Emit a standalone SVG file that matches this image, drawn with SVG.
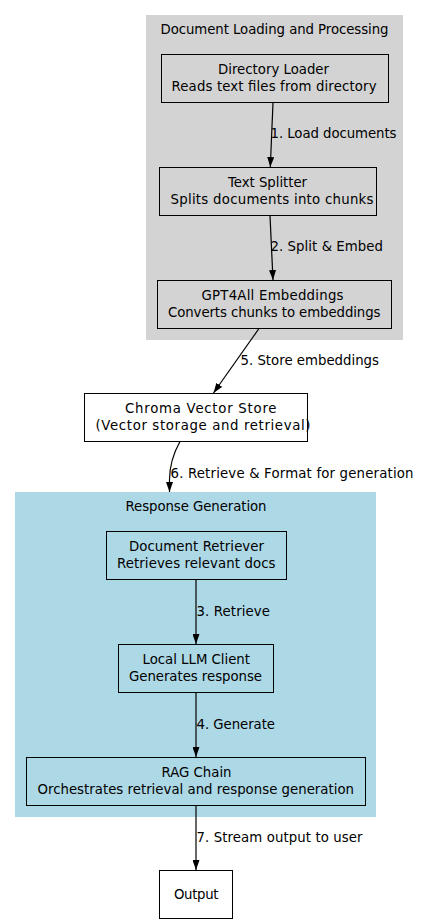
<svg xmlns="http://www.w3.org/2000/svg" width="436" height="924" viewBox="0 0 436 924">
<defs>
<marker id="ah" viewBox="0 0 10 7" refX="10" refY="3.5" markerWidth="10" markerHeight="7" markerUnits="userSpaceOnUse" orient="auto">
<path d="M0,0 L10,3.5 L0,7 Z" fill="#000"/>
</marker>
<style>
text{font-family:"DejaVu Sans",Verdana,sans-serif;font-size:13.3px;fill:#000}
.node{fill:none;stroke:#000;stroke-width:1}
.edge{fill:none;stroke:#000;stroke-width:1.2;marker-end:url(#ah)}
</style>
</defs>
<rect width="436" height="924" fill="#fff"/>
<g id="cluster_loading">
<rect x="146" y="15" width="257" height="325" fill="#d3d3d3"/>
<text x="160.5" y="34" textLength="228" lengthAdjust="spacing">Document Loading and Processing</text>
</g>
<g id="cluster_generation">
<rect x="15" y="492" width="361" height="325" fill="#add8e6"/>
<text x="125.5" y="511" textLength="141" lengthAdjust="spacing">Response Generation</text>
</g>
<g id="loader">
<rect class="node" x="161.5" y="54.5" width="227" height="48"/>
<text x="218" y="74" textLength="111" lengthAdjust="spacing">Directory Loader</text>
<text x="171.5" y="91" textLength="205" lengthAdjust="spacing">Reads text files from directory</text>
</g>
<g id="splitter">
<rect class="node" x="159.5" y="167.5" width="217" height="48"/>
<text x="228" y="187" textLength="79" lengthAdjust="spacing">Text Splitter</text>
<text x="170.5" y="204" textLength="203" lengthAdjust="spacing">Splits documents into chunks</text>
</g>
<g id="embeddings">
<rect class="node" x="157.5" y="280.5" width="234" height="48"/>
<text x="201.5" y="300" textLength="142" lengthAdjust="spacing">GPT4All Embeddings</text>
<text x="168" y="317" textLength="212.5" lengthAdjust="spacing">Converts chunks to embeddings</text>
</g>
<g id="chroma">
<rect class="node" x="84.5" y="393.5" width="223" height="48" fill="#fff"/>
<text x="125" y="413" textLength="151.5" lengthAdjust="spacing">Chroma Vector Store</text>
<text x="95.5" y="430" textLength="215" lengthAdjust="spacing">(Vector storage and retrieval)</text>
</g>
<g id="retriever">
<rect class="node" x="106.5" y="531.5" width="180" height="48"/>
<text x="129" y="551" textLength="135" lengthAdjust="spacing">Document Retriever</text>
<text x="117" y="568" textLength="158.5" lengthAdjust="spacing">Retrieves relevant docs</text>
</g>
<g id="llm">
<rect class="node" x="118.5" y="644.5" width="155" height="48"/>
<text x="142.5" y="664" textLength="107.5" lengthAdjust="spacing">Local LLM Client</text>
<text x="129" y="681" textLength="133" lengthAdjust="spacing">Generates response</text>
</g>
<g id="rag">
<rect class="node" x="26.5" y="757.5" width="339" height="48"/>
<text x="161.5" y="777" textLength="70" lengthAdjust="spacing">RAG Chain</text>
<text x="37.5" y="794" textLength="316.5" lengthAdjust="spacing">Orchestrates retrieval and response generation</text>
</g>
<g id="output">
<rect class="node" x="159.5" y="870.5" width="73" height="48" fill="#fff"/>
<text x="174" y="898.5" textLength="44.5" lengthAdjust="spacing">Output</text>
</g>
<g id="connectors">
<path class="edge" d="M273,102.5 L270.3,167"/>
<text x="270.5" y="138" textLength="126" lengthAdjust="spacing">1. Load documents</text>
<path class="edge" d="M270,215.5 L273,280"/>
<text x="270.5" y="251" textLength="112.5" lengthAdjust="spacing">2. Split &amp; Embed</text>
<path class="edge" d="M259,328.5 L213.5,393"/>
<text x="240.5" y="365" textLength="138.5" lengthAdjust="spacing">5. Store embeddings</text>
<path class="edge" d="M180,441.5 C173,454 169.5,467 169.5,480 L169.5,492"/>
<text x="170.5" y="478" textLength="243" lengthAdjust="spacing">6. Retrieve &amp; Format for generation</text>
<path class="edge" d="M196,579.5 L196,644"/>
<text x="196.5" y="616" textLength="73.5" lengthAdjust="spacing">3. Retrieve</text>
<path class="edge" d="M196,692.5 L196,757"/>
<text x="196.5" y="729" textLength="78.5" lengthAdjust="spacing">4. Generate</text>
<path class="edge" d="M196,805.5 L196,870"/>
<text x="196.5" y="842" textLength="166" lengthAdjust="spacing">7. Stream output to user</text>
</g>
</svg>
